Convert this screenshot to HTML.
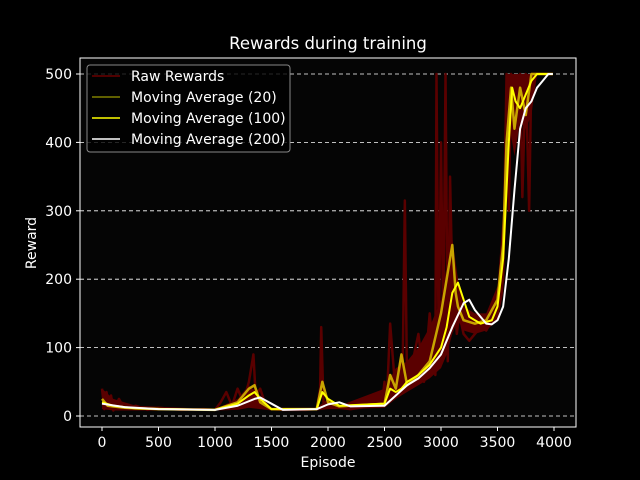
<!DOCTYPE html>
<html><head><meta charset="utf-8"><style>
body{margin:0;background:#000;}
svg{display:block;font-family:"DejaVu Sans","Liberation Sans",sans-serif;}
</style></head><body>
<svg id="chart" width="640" height="480" viewBox="0 0 640 480">
<rect width="640" height="480" fill="#000"/>
<rect x="80" y="58" width="496" height="369" fill="#050505"/>
<text x="328" y="49" fill="#fff" font-size="16.5" text-anchor="middle">Rewards during training</text>
<text x="328" y="467" fill="#fff" font-size="14" text-anchor="middle">Episode</text>
<text x="36" y="243" fill="#fff" font-size="14" text-anchor="middle" transform="rotate(-90 36 243)">Reward</text>
<g id="grid"></g><g id="series"></g><g id="axes"></g>
<g>
<rect x="87" y="65" width="203" height="87" rx="3" fill="#000" fill-opacity="0.8" stroke="#888" stroke-width="1"/>
<line x1="92" y1="76" x2="120" y2="76" stroke="#6a0000" stroke-width="1.5"/>
<text x="131" y="81" fill="#fff" font-size="14">Raw Rewards</text>
<line x1="92" y1="97" x2="120" y2="97" stroke="#808000" stroke-width="1.5"/>
<text x="131" y="102" fill="#fff" font-size="14">Moving Average (20)</text>
<line x1="92" y1="118" x2="120" y2="118" stroke="#ffff00" stroke-width="1.5"/>
<text x="131" y="123" fill="#fff" font-size="14">Moving Average (100)</text>
<line x1="92" y1="139" x2="120" y2="139" stroke="#fff" stroke-width="1.5"/>
<text x="131" y="144" fill="#fff" font-size="14">Moving Average (200)</text>
</g>
</svg>
<script>
const xTicks=[0,500,1000,1500,2000,2500,3000,3500,4000];
const yTicks=[0,100,200,300,400,500];
const rawEp=[0,20,40,60,80,100,150,200,300,400,500,700,900,1000,1050,1100,1150,1200,1250,1300,1340,1360,1400,1450,1500,1600,1800,1900,1930,1940,1960,2000,2100,2200,2400,2480,2500,2520,2550,2600,2640,2660,2680,2700,2750,2800,2850,2900,2950,2960,2980,3000,3020,3040,3060,3080,3100,3120,3140,3160,3200,3250,3300,3350,3400,3450,3500,3550,3580,3600,3620,3650,3700,3720,3750,3780,3800,3850,3900,3990];
const rawVal=[40,10,35,12,30,8,25,10,15,9,12,9,10,9,20,35,15,40,20,50,90,30,40,15,10,9,9,10,40,130,20,20,12,10,15,20,50,20,135,30,80,60,315,40,80,120,50,150,60,500,90,400,120,500,80,350,200,180,120,150,120,110,120,130,125,140,150,200,500,300,500,420,500,320,500,300,500,500,500,500];
const bandEp=[0,100,300,1000,1200,1300,1400,1500,1900,2000,2100,2500,2600,2700,2800,2900,3000,3050,3100,3150,3200,3300,3400,3500,3550,3580,3600,3650,3700,3750,3800,3850,3990];
const bandLow=[10,8,8,8,9,12,10,8,8,10,10,12,25,35,45,55,70,90,120,140,125,120,125,140,180,300,430,380,430,420,440,500,500];
const bandHigh=[40,25,15,10,25,45,30,12,12,25,15,40,70,80,100,130,170,220,260,200,160,150,150,190,300,500,500,500,500,500,500,500,500];
const ma20Ep=[0,50,200,500,1000,1200,1300,1350,1400,1500,1900,1950,2000,2100,2500,2550,2600,2650,2700,2800,2900,3000,3050,3100,3130,3150,3200,3300,3400,3500,3550,3580,3620,3650,3700,3750,3800,3990];
const ma20Val=[25,15,12,10,9,20,40,45,20,10,10,50,20,14,18,60,40,90,45,60,80,150,200,250,180,160,140,135,140,170,250,400,480,420,480,440,500,500];
const ma100Ep=[0,100,300,1000,1200,1300,1350,1400,1500,1900,1950,2000,2100,2500,2550,2600,2650,2700,2800,2900,3000,3050,3100,3150,3200,3250,3350,3450,3500,3550,3600,3630,3660,3700,3750,3800,3850,3990];
const ma100Val=[20,15,11,9,18,30,35,25,10,10,35,25,15,18,40,35,40,50,60,75,100,130,180,195,170,145,135,140,160,230,400,480,460,450,470,490,500,500];
const ma200Ep=[0,200,500,1000,1200,1350,1400,1500,1600,1900,2000,2100,2200,2500,2600,2700,2800,2900,3000,3100,3200,3250,3300,3400,3450,3500,3550,3600,3650,3700,3750,3800,3850,3900,3950,3990];
const ma200Val=[18,13,10,9,15,25,27,18,9,10,17,20,14,15,30,45,55,70,90,130,165,170,155,135,134,140,160,230,330,420,450,460,480,490,500,500];
const NS='http://www.w3.org/2000/svg';
const X=e=>102+e*0.113, Y=v=>416-v*0.684;
const grid=document.getElementById('grid'),axes=document.getElementById('axes'),ser=document.getElementById('series');
function mk(tag,attrs,parent){const el=document.createElementNS(NS,tag);for(const k in attrs)el.setAttribute(k,attrs[k]);parent.appendChild(el);return el;}
yTicks.forEach(v=>{
 const g=mk('line',{x1:80,x2:576,y1:Y(v),y2:Y(v),stroke:'#fff','stroke-width':0.8,'stroke-dasharray':'4,3'},grid);
 
 
 mk('line',{x1:76,x2:80,y1:Y(v),y2:Y(v),stroke:'#fff'},axes);
 const t=mk('text',{x:72,y:Y(v)+5,fill:'#fff','font-size':14,'text-anchor':'end'},axes);t.textContent=v;
 
 
});
xTicks.forEach(v=>{
 mk('line',{x1:X(v),x2:X(v),y1:427,y2:431,stroke:'#fff'},axes);
 const t=mk('text',{x:X(v),y:447,fill:'#fff','font-size':14,'text-anchor':'middle'},axes);t.textContent=v;
 
 
});
mk('rect',{x:80,y:58,width:496,height:369,fill:'none',stroke:'#fff','stroke-width':1},axes);
const bandPts=bandEp.map((e,i)=>X(e)+','+Y(bandHigh[i])).concat(bandEp.map((e,i)=>X(e)+','+Y(bandLow[i])).reverse()).join(' ');
const band=mk('polygon',{points:bandPts,fill:'#5a0000'},ser);


function line(ep,val,color,w,name){
 const p=mk('polyline',{points:ep.map((e,i)=>X(e)+','+Y(val[i])).join(' '),fill:'none',stroke:color,'stroke-width':w,'stroke-linejoin':'round'},ser);
 
 
}
line(rawEp,rawVal,'#5a0000',2.5,'raw-rewards-line');
line(ma20Ep,ma20Val,'#c8a400',2.5,'ma20-line');
line(ma100Ep,ma100Val,'#ffff00',2,'ma100-line');
line(ma200Ep,ma200Val,'#ffffff',2,'ma200-line');
</script>
</body></html>
